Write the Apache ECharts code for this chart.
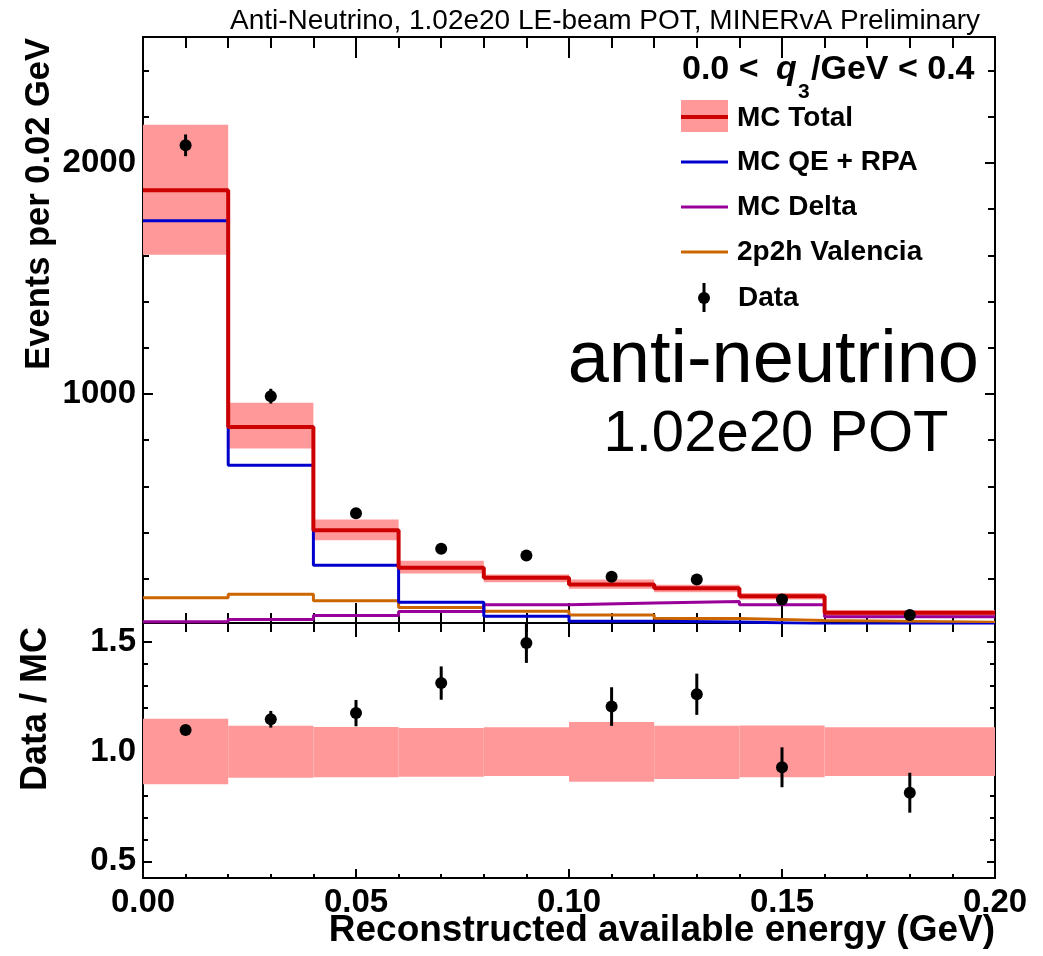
<!DOCTYPE html>
<html>
<head>
<meta charset="utf-8">
<script src="https://cdn.jsdelivr.net/npm/echarts@6/dist/echarts.min.js"></script>
<style>
  html, body { margin: 0; padding: 0; background: #fff; }
  #chart { width: 1043px; height: 956px; }
</style>
</head>
<body>
<div id="chart"></div>
<script>
// bins of reconstructed available energy (GeV)
var binEdges = [0, 0.02, 0.04, 0.06, 0.08, 0.10, 0.12, 0.14, 0.16, 0.20];
var binCenters = [0.01, 0.03, 0.05, 0.07, 0.09, 0.11, 0.13, 0.15, 0.18];

// events per 0.02 GeV
var mcTotal = [1881, 857, 410, 247, 204, 175, 158, 124, 52];
var mcTotalLow = [1602, 763, 366, 222, 184, 156, 141, 110, 37];
var mcTotalHigh = [2165, 961, 456, 277, 218, 196, 174, 138, 63];
var mcQE = [1750, 691, 258, 98, 37, 16, 12, 5, 2];
var mcDelta = [13, 23, 40, 58, 87, 95, 101, 87, 35];
var mc2p2h = [117, 133, 104, 75, 59, 43, 27, 19, 11];
var dataEvents = [2076, 990, 483, 329, 300, 208, 196, 110, 43];
var dataErr = [47, 32, 20, 18, 16, 14, 14, 11, 7];

// data / MC
var ratio = [1.099, 1.148, 1.176, 1.313, 1.496, 1.206, 1.262, 0.929, 0.813];
var ratioErr = [0.02, 0.038, 0.06, 0.076, 0.091, 0.088, 0.094, 0.091, 0.091];
var ratioBandLow = [0.852, 0.881, 0.884, 0.886, 0.889, 0.863, 0.875, 0.883, 0.889];
var ratioBandHigh = [1.150, 1.118, 1.113, 1.108, 1.111, 1.136, 1.118, 1.119, 1.112];

// tick labels
var yTickLabels = ['1000', '2000'];
var ratioTickLabels = ['0.5', '1.0', '1.5'];
var xTickLabels = ['0.00', '0.05', '0.10', '0.15', '0.20'];

var FONT = '"Liberation Sans", Arial, Helvetica, sans-serif';

var myChart = echarts.init(document.getElementById('chart'));

function stepData(vals) {
  var pts = vals.map(function (v, i) { return [binEdges[i], v]; });
  pts.push([binEdges[binEdges.length - 1], vals[vals.length - 1]]);
  return pts;
}

function bandData(lo, hi) {
  return lo.map(function (v, i) { return [binEdges[i], binEdges[i + 1], v, hi[i]]; });
}

function pointData(vals, errs) {
  return vals.map(function (v, i) { return [binCenters[i], v, errs[i]]; });
}

function renderBand(params, api) {
  var a = api.coord([api.value(0), api.value(3)]);
  var b = api.coord([api.value(1), api.value(2)]);
  return {
    type: 'rect',
    shape: { x: a[0], y: a[1], width: b[0] - a[0], height: b[1] - a[1] },
    style: { fill: '#ff9999' }
  };
}

function renderPoint(params, api) {
  var c = api.coord([api.value(0), api.value(1)]);
  var hi = api.coord([api.value(0), api.value(1) + api.value(2)]);
  var lo = api.coord([api.value(0), api.value(1) - api.value(2)]);
  return {
    type: 'group',
    children: [
      { type: 'line', shape: { x1: c[0], y1: hi[1], x2: c[0], y2: lo[1] }, style: { stroke: '#000', lineWidth: 3 } },
      { type: 'circle', shape: { cx: c[0], cy: c[1], r: 6 }, style: { fill: '#000' } }
    ]
  };
}

var labelStyle = { color: '#000', fontSize: 33, fontWeight: 'bold', fontFamily: FONT };

function xAx(grid, pos, step, len, withLabels) {
  return {
    type: 'value', gridIndex: grid, position: pos, min: 0, max: 0.2, interval: step,
    axisLine: { show: true, onZero: false, lineStyle: { color: '#000', width: 2 } },
    axisTick: { show: true, inside: true, length: len, lineStyle: { color: '#000', width: 2 } },
    axisLabel: withLabels ? Object.assign({
      margin: 8,
      formatter: function (v) { return xTickLabels[Math.round(v / 0.05)] || ''; }
    }, labelStyle) : { show: false },
    splitLine: { show: false }
  };
}

function yAx(grid, pos, min, max, step, len, labels) {
  return {
    type: 'value', gridIndex: grid, position: pos, min: min, max: max,
    minInterval: step, maxInterval: step,
    axisLine: { show: true, onZero: false, lineStyle: { color: '#000', width: 2 } },
    axisTick: { show: true, inside: true, length: len, lineStyle: { color: '#000', width: 2 } },
    axisLabel: labels ? Object.assign({
      margin: 7,
      formatter: function (v) {
        var s = step >= 1 ? String(Math.round(v)) : v.toFixed(1);
        return labels.indexOf(s) >= 0 ? s : '';
      }
    }, labelStyle) : { show: false },
    splitLine: { show: false }
  };
}

var legendY = [117, 162, 207, 252, 298];

var option = {
  animation: false,
  backgroundColor: '#fff',
  grid: [
    { left: 143, top: 37, width: 852, height: 586 },
    { left: 143, top: 623, width: 852, height: 255 }
  ],
  xAxis: [
    xAx(0, 'bottom', 0.01, 10, false),
    xAx(0, 'bottom', 0.05, 20, false),
    xAx(0, 'top', 0.01, 11, false),
    xAx(0, 'top', 0.05, 21, false),
    xAx(1, 'top', 0.01, 9, false),
    xAx(1, 'top', 0.05, 14, false),
    xAx(1, 'bottom', 0.01, 4, false),
    xAx(1, 'bottom', 0.05, 9, true)
  ],
  yAxis: [
    yAx(0, 'left', 8, 2545, 200, 6, null),
    yAx(0, 'left', 8, 2545, 1000, 10, yTickLabels),
    yAx(0, 'right', 8, 2545, 200, 7, null),
    yAx(0, 'right', 8, 2545, 1000, 10, null),
    yAx(1, 'left', 0.424, 1.587, 0.1, 5, null),
    yAx(1, 'left', 0.424, 1.587, 0.5, 9, ratioTickLabels),
    yAx(1, 'right', 0.424, 1.587, 0.1, 5, null),
    yAx(1, 'right', 0.424, 1.587, 0.5, 8, null)
  ],
  series: [
    {
      name: 'MC Total band', type: 'custom', xAxisIndex: 0, yAxisIndex: 0, z: 1, silent: true,
      encode: { x: [0, 1], y: [2, 3] },
      data: bandData(mcTotalLow, mcTotalHigh), renderItem: renderBand
    },
    {
      name: '2p2h Valencia', type: 'line', xAxisIndex: 0, yAxisIndex: 0, step: 'end', showSymbol: false, z: 3,
      lineStyle: { color: '#cc6600', width: 3 }, data: stepData(mc2p2h)
    },
    {
      name: 'MC Delta', type: 'line', xAxisIndex: 0, yAxisIndex: 0, step: 'end', showSymbol: false, z: 3,
      lineStyle: { color: '#990099', width: 3 }, data: stepData(mcDelta)
    },
    {
      name: 'MC QE + RPA', type: 'line', xAxisIndex: 0, yAxisIndex: 0, step: 'end', showSymbol: false, z: 3,
      lineStyle: { color: '#0000cc', width: 3 }, data: stepData(mcQE)
    },
    {
      name: 'MC Total', type: 'line', xAxisIndex: 0, yAxisIndex: 0, step: 'end', showSymbol: false, z: 4,
      lineStyle: { color: '#cc0000', width: 4 }, data: stepData(mcTotal)
    },
    {
      name: 'Data', type: 'custom', xAxisIndex: 0, yAxisIndex: 0, z: 5,
      encode: { x: 0, y: 1 },
      data: pointData(dataEvents, dataErr), renderItem: renderPoint
    },
    {
      name: 'Ratio band', type: 'custom', xAxisIndex: 4, yAxisIndex: 4, z: 1, silent: true,
      encode: { x: [0, 1], y: [2, 3] },
      data: bandData(ratioBandLow, ratioBandHigh), renderItem: renderBand
    },
    {
      name: 'Data / MC', type: 'custom', xAxisIndex: 4, yAxisIndex: 4, z: 5,
      encode: { x: 0, y: 1 },
      data: pointData(ratio, ratioErr), renderItem: renderPoint
    }
  ],
  graphic: {
    elements: [
      // title line
      { type: 'text', x: 230, y: 21,
        style: { text: 'Anti-Neutrino, 1.02e20 LE-beam POT, MINERvA Preliminary', fill: '#000',
                 verticalAlign: 'middle', font: '28px ' + FONT } },
      // axis titles
      { type: 'text', x: 39, y: 38, rotation: Math.PI / 2,
        style: { text: 'Events per 0.02 GeV', fill: '#000', align: 'right', verticalAlign: 'middle',
                 font: 'bold 34.5px ' + FONT } },
      { type: 'text', x: 36, y: 709, rotation: Math.PI / 2,
        style: { text: 'Data / MC', fill: '#000', align: 'center', verticalAlign: 'middle',
                 font: 'bold 36px ' + FONT } },
      { type: 'text', x: 995, y: 931,
        style: { text: 'Reconstructed available energy (GeV)', fill: '#000', align: 'right', verticalAlign: 'middle',
                 font: 'bold 37px ' + FONT } },
      // legend header
      { type: 'text', x: 682, y: 70,
        style: { text: '0.0 <', fill: '#000', align: 'left', verticalAlign: 'middle', font: 'bold 34px ' + FONT } },
      { type: 'text', x: 776, y: 70,
        style: { text: 'q', fill: '#000', align: 'left', verticalAlign: 'middle', font: 'italic bold 34px ' + FONT } },
      { type: 'text', x: 798, y: 92,
        style: { text: '3', fill: '#000', align: 'left', verticalAlign: 'middle', font: 'bold 21px ' + FONT } },
      { type: 'text', x: 811, y: 70,
        style: { text: '/GeV < 0.4', fill: '#000', align: 'left', verticalAlign: 'middle', font: 'bold 34px ' + FONT } },
      // legend entries
      { type: 'rect', shape: { x: 681, y: 100, width: 47, height: 32 }, style: { fill: '#ff9999' } },
      { type: 'line', shape: { x1: 681, y1: legendY[0], x2: 728, y2: legendY[0] }, style: { stroke: '#cc0000', lineWidth: 4 } },
      { type: 'line', shape: { x1: 681, y1: legendY[1], x2: 728, y2: legendY[1] }, style: { stroke: '#0000cc', lineWidth: 3 } },
      { type: 'line', shape: { x1: 681, y1: legendY[2], x2: 728, y2: legendY[2] }, style: { stroke: '#990099', lineWidth: 3 } },
      { type: 'line', shape: { x1: 681, y1: legendY[3], x2: 728, y2: legendY[3] }, style: { stroke: '#cc6600', lineWidth: 3 } },
      { type: 'line', shape: { x1: 704, y1: legendY[4] - 15, x2: 704, y2: legendY[4] + 14 }, style: { stroke: '#000', lineWidth: 3 } },
      { type: 'circle', shape: { cx: 704, cy: legendY[4], r: 6 }, style: { fill: '#000' } },
      { type: 'text', x: 737, y: legendY[0] + 1, style: { text: 'MC Total', fill: '#000', verticalAlign: 'middle', font: 'bold 28px ' + FONT } },
      { type: 'text', x: 737, y: legendY[1], style: { text: 'MC QE + RPA', fill: '#000', verticalAlign: 'middle', font: 'bold 28px ' + FONT } },
      { type: 'text', x: 737, y: legendY[2], style: { text: 'MC Delta', fill: '#000', verticalAlign: 'middle', font: 'bold 28px ' + FONT } },
      { type: 'text', x: 737, y: legendY[3], style: { text: '2p2h Valencia', fill: '#000', verticalAlign: 'middle', font: 'bold 28px ' + FONT } },
      { type: 'text', x: 738, y: legendY[4], style: { text: 'Data', fill: '#000', verticalAlign: 'middle', font: 'bold 28px ' + FONT } },
      // big annotation
      { type: 'text', x: 979, y: 362,
        style: { text: 'anti-neutrino', fill: '#000', align: 'right', verticalAlign: 'middle', font: '74px ' + FONT } },
      { type: 'text', x: 776, y: 435,
        style: { text: '1.02e20 POT', fill: '#000', align: 'center', verticalAlign: 'middle', font: '58px ' + FONT } }
    ]
  }
};

myChart.setOption(option);
</script>
</body>
</html>
